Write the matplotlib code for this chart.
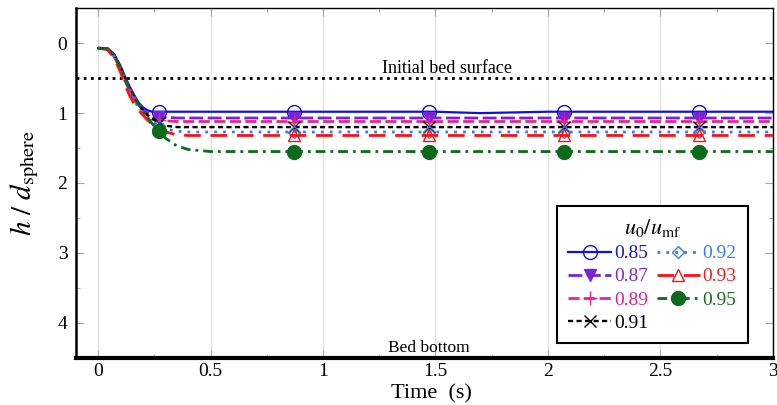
import matplotlib
matplotlib.use("Agg")
import matplotlib.pyplot as plt
from matplotlib.ticker import MultipleLocator

plt.rcParams['font.family'] = ['Liberation Serif', 'DejaVu Serif']
plt.rcParams['mathtext.fontset'] = 'stix'

# ---- data ----
time_s = [0.0, 0.04, 0.07, 0.10, 0.12, 0.14, 0.16, 0.18, 0.20, 0.22, 0.24, 0.27,
          0.30, 0.35, 0.40, 0.50, 0.87, 1.00, 1.47, 1.50, 1.70, 2.00, 2.07, 2.50, 2.67, 3.00]
marker_times = [0.27, 0.87, 1.47, 2.07, 2.67]

labels = ['0.85', '0.87', '0.89', '0.91', '0.92', '0.93', '0.95']
h_085 = [0.07, 0.07, 0.15, 0.33, 0.48, 0.62, 0.74, 0.85, 0.92, 0.96, 0.98, 0.98,
         0.98, 0.98, 0.98, 0.98, 0.98, 0.98, 0.98, 0.98, 1.00, 0.98, 0.98, 0.98, 0.98, 0.98]
h_087 = [0.07, 0.08, 0.17, 0.35, 0.50, 0.64, 0.76, 0.87, 0.95, 1.00, 1.03, 1.05,
         1.06, 1.07, 1.07, 1.07, 1.07, 1.07, 1.07, 1.07, 1.07, 1.07, 1.07, 1.07, 1.07, 1.07]
h_089 = [0.07, 0.08, 0.18, 0.38, 0.54, 0.68, 0.80, 0.90, 0.98, 1.03, 1.07, 1.10,
         1.11, 1.12, 1.12, 1.12, 1.12, 1.12, 1.12, 1.12, 1.12, 1.12, 1.12, 1.12, 1.12, 1.12]
h_091 = [0.07, 0.07, 0.16, 0.34, 0.50, 0.64, 0.77, 0.88, 0.96, 1.03, 1.08, 1.14,
         1.18, 1.20, 1.20, 1.20, 1.20, 1.20, 1.20, 1.20, 1.20, 1.20, 1.20, 1.20, 1.20, 1.20]
h_092 = [0.07, 0.08, 0.18, 0.38, 0.55, 0.70, 0.82, 0.92, 1.00, 1.07, 1.12, 1.18,
         1.23, 1.26, 1.27, 1.27, 1.27, 1.27, 1.27, 1.27, 1.27, 1.27, 1.27, 1.27, 1.27, 1.27]
h_093 = [0.07, 0.09, 0.20, 0.42, 0.60, 0.75, 0.87, 0.96, 1.03, 1.10, 1.16, 1.22,
         1.27, 1.31, 1.32, 1.32, 1.32, 1.32, 1.32, 1.32, 1.32, 1.32, 1.32, 1.32, 1.32, 1.32]
h_095 = [0.07, 0.08, 0.17, 0.36, 0.52, 0.66, 0.78, 0.88, 0.97, 1.06, 1.15, 1.26,
         1.36, 1.47, 1.52, 1.55, 1.55, 1.55, 1.55, 1.55, 1.55, 1.55, 1.55, 1.55, 1.55, 1.55]
series = [h_085, h_087, h_089, h_091, h_092, h_093, h_095]

initial_bed = 0.5
bed_bottom = 4.5

# ---- styles ----
line_colors = ['#1010e0', '#7a22d8', '#f0208c', '#000000', '#2f7fff', '#ff1010', '#0b6b1b']
text_colors = ['#1a1acc', '#7a2bd6', '#e8208c', '#000000', '#3380ff', '#ff1a1a', '#1a6e1a']
dashes = [None, (5, 1.6), (4, 1.6), (2.2, 1.4), (1, 2.2), (6, 3.5), (3.5, 1.8, 1, 1.8)]
markers = ['o', 'v', '+', 'x', 'D', '^', 'o']
msizes = [10, 9, 10, 9, 6.5, 9, 10]
mfc = ['none', '#7a22d8', 'none', 'none', 'none', 'none', '#0b6b1b']
lws = [1.6, 2.0, 2.0, 1.7, 2.0, 2.0, 2.0]

fig = plt.figure(figsize=(7.77, 4.05), dpi=100)
ax = fig.add_axes([0.0974, 0.1168, 0.8971, 0.8627])

mark_idx = [time_s.index(t) for t in marker_times]
handles = []
for i, (lab, h) in enumerate(zip(labels, series)):
    kw = dict(color=line_colors[i], lw=lws[i], marker=markers[i], ms=msizes[i],
              mfc=mfc[i], mec=line_colors[i], mew=1.0, markevery=mark_idx, label=lab)
    if dashes[i] is not None:
        kw['dashes'] = dashes[i]
    ln, = ax.plot(time_s, h, **kw)
    handles.append(ln)

ax.axhline(initial_bed, color='black', lw=2.0, ls=(0, (1, 1.6)), zorder=1)
ax.text(1.55, initial_bed - 0.02, 'Initial bed surface', ha='center', va='bottom', fontsize=13)
ax.text(1.47, bed_bottom - 0.02, 'Bed bottom', ha='center', va='bottom', fontsize=12.5)

ax.set_xlim(-0.1, 3.0)
ax.set_ylim(bed_bottom, -0.5)
ax.xaxis.set_minor_locator(MultipleLocator(0.25))
ax.yaxis.set_minor_locator(MultipleLocator(0.5))
ax.set_xticks([0, 0.5, 1, 1.5, 2, 2.5, 3])
ax.set_xticklabels(['0', '0.5', '1', '1.5', '2', '2.5', '3'])
ax.set_yticks([0, 1, 2, 3, 4])
ax.tick_params(which='both', direction='in', top=True, right=True, color='#aaaaaa', labelsize=14)
ax.tick_params(which='major', length=6)
ax.tick_params(which='minor', length=3)
ax.tick_params(axis='x', pad=4)
ax.tick_params(axis='y', pad=6)
ax.grid(axis='x', which='major', color='#e2e2e2', lw=1.0)
ax.set_axisbelow(True)

ax.spines['left'].set_linewidth(1.8)
ax.spines['bottom'].set_linewidth(3.0)
ax.spines['top'].set_linewidth(1.0)
ax.spines['right'].set_linewidth(1.0)

ax.set_xlabel('Time  (s)', fontsize=16)
ax.xaxis.set_label_coords(0.51, -0.075)
ax.set_ylabel(r'$h\ /\ d_{\mathrm{sphere}}$', fontsize=21)
ax.yaxis.set_label_coords(-0.05, 0.5)

leg = ax.legend(handles=handles, ncol=2, loc='upper left', bbox_to_anchor=(0.69, 0.435),
                title=r'$u_0/u_{\mathrm{mf}}$', title_fontsize=16, fontsize=14,
                numpoints=1, handlelength=2.2, handletextpad=0.15, columnspacing=0.45,
                labelspacing=0.28, borderpad=0.6, borderaxespad=0, fancybox=False,
                framealpha=1, edgecolor='black')
leg.get_frame().set_linewidth(1.5)
for txt, c in zip(leg.get_texts(), text_colors):
    txt.set_color(c)

fig.savefig('out.png', dpi=100)
